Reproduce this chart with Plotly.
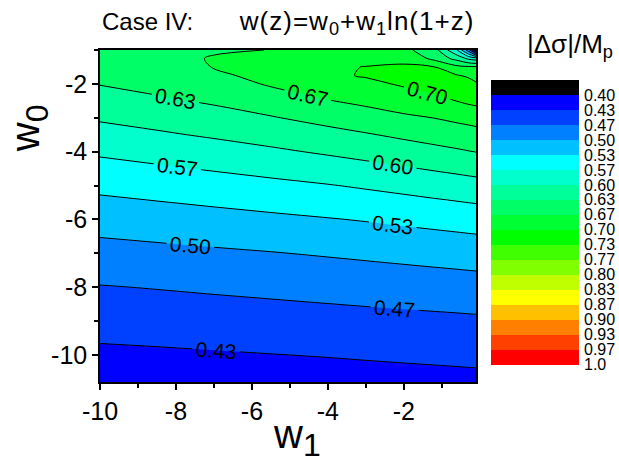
import plotly.graph_objects as go

# ---------------- data ----------------
w1 = [-10, -8.5, -7, -5.5, -4, -3, -2, -1.2, -0.6, -0.3, -0.1]
w0 = [-10.8, -10, -9, -8, -7, -6, -5, -4, -3.5, -3, -2.5, -2, -1.75, -1.5, -1.25, -1]

# |Δσ|/Mp along w0 (bottom -> top), one list per w1 column
col_w1_m10 = [0.413, 0.427, 0.4458, 0.4652, 0.4883, 0.5134, 0.5410, 0.5715, 0.5878, 0.6039, 0.6193, 0.6346, 0.642, 0.649, 0.655, 0.659]
col_w1_m8p5 = [0.4145, 0.4286, 0.4481, 0.4680, 0.4917, 0.5177, 0.5465, 0.5786, 0.5957, 0.6120, 0.6282, 0.6435, 0.651, 0.657, 0.661, 0.662]
col_w1_m7 = [0.4164, 0.4306, 0.4504, 0.4711, 0.4952, 0.5222, 0.5524, 0.5864, 0.6040, 0.6211, 0.6375, 0.652, 0.661, 0.6675, 0.6678, 0.665]
col_w1_m5p5 = [0.4183, 0.4327, 0.4527, 0.4742, 0.4987, 0.5269, 0.5586, 0.5948, 0.6131, 0.6312, 0.6506, 0.670, 0.676, 0.681, 0.680, 0.6669]
col_w1_m4 = [0.4202, 0.4347, 0.4551, 0.4775, 0.5028, 0.5317, 0.5652, 0.6041, 0.6233, 0.6437, 0.6654, 0.684, 0.694, 0.697, 0.692, 0.683]
col_w1_m3 = [0.4215, 0.4363, 0.4568, 0.4798, 0.5057, 0.5353, 0.5705, 0.6108, 0.6309, 0.6526, 0.6737, 0.693, 0.7025, 0.7005, 0.693, 0.684]
col_w1_m2 = [0.4228, 0.4378, 0.4585, 0.4821, 0.5087, 0.5394, 0.5762, 0.6182, 0.6393, 0.6610, 0.6845, 0.7035, 0.708, 0.7025, 0.695, 0.675]
col_w1_m1p2 = [0.4238, 0.4390, 0.4598, 0.4839, 0.5112, 0.5428, 0.5812, 0.6246, 0.6459, 0.6672, 0.6937, 0.710, 0.711, 0.7003, 0.658, 0.647]
col_w1_m0p6 = [0.4246, 0.4399, 0.4608, 0.4853, 0.5131, 0.5454, 0.5850, 0.6296, 0.6507, 0.6735, 0.7005, 0.714, 0.7015, 0.6746, 0.622, 0.567]
col_w1_m0p3 = [0.4250, 0.4404, 0.4614, 0.4861, 0.5141, 0.5468, 0.5871, 0.6323, 0.6530, 0.6768, 0.706, 0.710, 0.696, 0.671, 0.593, 0.481]
col_w1_m0p1 = [0.4252, 0.4407, 0.4617, 0.4866, 0.5147, 0.5477, 0.5884, 0.6340, 0.6547, 0.6795, 0.7085, 0.7035, 0.687, 0.670, 0.583, 0.37]

columns = [col_w1_m10, col_w1_m8p5, col_w1_m7, col_w1_m5p5, col_w1_m4, col_w1_m3,
           col_w1_m2, col_w1_m1p2, col_w1_m0p6, col_w1_m0p3, col_w1_m0p1]

# colour scale bands (top -> bottom as in the reference bar) and their labels
band_colors = ["#000000", "#0000ff", "#0040ff", "#0080ff", "#00c0ff", "#00ffff",
               "#00ffcc", "#00ff99", "#00ff66", "#00ff33", "#00ff00", "#40ff00",
               "#80ff00", "#c0ff00", "#ffff00", "#ffc000", "#ff8000", "#ff4000", "#ff0000"]
band_labels = ["0.40", "0.43", "0.47", "0.50", "0.53", "0.57", "0.60", "0.63", "0.67",
               "0.70", "0.73", "0.77", "0.80", "0.83", "0.87", "0.90", "0.93", "0.97", "1.0"]
level_start = 0.40
level_step = 1.0 / 30.0
level_end = 0.9667

x_ticks = [-10, -8, -6, -4, -2]
x_ticktext = ["-10", "-8", "-6", "-4", "-2"]
y_ticks = [-10, -8, -6, -4, -2]
y_ticktext = ["-10", "-8", "-6", "-4", "-2"]

# ---------------- figure ----------------
FONT = "Liberation Sans, Arial, sans-serif"
z = [[columns[j][i] for j in range(len(w1))] for i in range(len(w0))]

n = len(band_colors) - 1
cscale = []
for k, c in enumerate(band_colors):
    lo = 0.0 if k == 0 else (k - 0.3) / n
    hi = 1.0 if k == n else (k + 0.7) / n
    cscale.append([lo, c])
    cscale.append([hi, c])

fig = go.Figure()
fig.add_trace(go.Contour(
    x=w1, y=w0, z=z,
    colorscale=cscale, showscale=False,
    contours=dict(start=level_start, end=level_end, size=level_step,
                  coloring="fill", showlines=True, showlabels=True,
                  labelfont=dict(size=21, color="black", family=FONT),
                  labelformat=".2f"),
    line=dict(color="black", width=1, smoothing=1),
    xaxis="x", yaxis="y", hoverinfo="skip",
))

fig.add_trace(go.Heatmap(
    x=[0], y=list(range(len(band_colors))),
    z=[[k] for k in range(len(band_colors))],
    zmin=0, zmax=n, colorscale=cscale, showscale=False,
    xaxis="x2", yaxis="y2", hoverinfo="skip",
))

axis_common = dict(showline=True, linecolor="black", linewidth=1.5, mirror=True,
                   ticks="outside", tickcolor="black", tickwidth=1.5, ticklen=6,
                   showgrid=False, zeroline=False, automargin=False,
                   tickfont=dict(size=25, family=FONT, color="black"))

formula = ("<span style='font-size:26px;letter-spacing:1px'>w(z)=w<sub>0</sub>+w<sub>1</sub>"
           "ln(1+z)</span>")

fig.update_layout(
    width=619, height=472,
    margin=dict(l=100, r=40, t=50, b=90, autoexpand=False),
    paper_bgcolor="white", plot_bgcolor="white",
    showlegend=False,
    xaxis=dict(domain=[0, 0.785], range=[-10, -0.1], tickvals=x_ticks, ticktext=x_ticktext,
               minor=dict(ticks="outside", ticklen=4, tickcolor="black", tickwidth=1.5, dtick=1, tick0=0),
               **axis_common),
    yaxis=dict(domain=[0, 1], range=[-10.8, -1.0], tickvals=y_ticks, ticktext=y_ticktext,
               minor=dict(ticks="outside", ticklen=4, tickcolor="black", tickwidth=1.5, dtick=1, tick0=0),
               **axis_common),
    xaxis2=dict(domain=[0.8163, 1.0], range=[-0.5, 0.5], visible=False, anchor="y2",
                automargin=False),
    yaxis2=dict(domain=[0.0512, 0.9096], range=[n + 0.52, -0.5], anchor="x2", side="right",
                tickvals=[k + 0.5 for k in range(len(band_labels))], ticktext=band_labels,
                ticks="", showline=False, showgrid=False, zeroline=False, automargin=False,
                ticklabelstandoff=4,
                tickfont=dict(size=16, family=FONT, color="black")),
    annotations=[
        dict(text="Case IV:" + "\u00a0" * 7 + formula,
             xref="paper", yref="paper", x=0.0, y=1.084, xanchor="left", yanchor="middle",
             showarrow=False, font=dict(size=24, family=FONT, color="black")),
        dict(text="|\u0394\u03c3|/M<sub>p</sub>", xref="paper", yref="paper",
             x=1.075, y=1.015, xanchor="right", yanchor="middle",
             showarrow=False, font=dict(size=26, family=FONT, color="black")),
        dict(text="w<sub><span style='font-size:32px'>1</span></sub>", xref="paper", yref="paper",
             x=0.411, y=-0.084, xanchor="center", yanchor="top",
             showarrow=False, font=dict(size=40, family=FONT, color="black")),
        dict(text="w<sub><span style='font-size:32px'>0</span></sub>", xref="paper", yref="paper",
             textangle=-90, x=-0.150, y=0.765, xanchor="center", yanchor="middle",
             showarrow=False, font=dict(size=40, family=FONT, color="black")),
    ],
)

fig.write_html("out.html", config={"displayModeBar": False},
               post_script="document.body.style.margin='0px';document.body.style.overflow='hidden';")
